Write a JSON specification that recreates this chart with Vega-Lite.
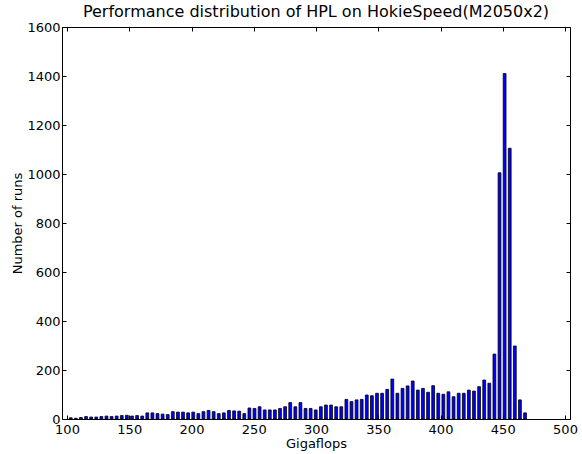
{
  "$schema": "https://vega.github.io/schema/vega-lite/v6.json",
  "width": 508,
  "height": 392,
  "autosize": {"type": "none"},
  "padding": {"left": 62, "top": 27, "right": 12, "bottom": 35},
  "background": "white",
  "title": {"text": "Performance distribution of HPL on HokieSpeed(M2050x2)", "font": "DejaVu Sans", "fontSize": 16, "fontWeight": "normal", "color": "black", "offset": 1},
  "config": {
    "view": {"stroke": "black", "strokeWidth": 1},
    "axis": {"grid": false, "domain": false, "labelFont": "DejaVu Sans", "labelFontSize": 13, "labelColor": "black", "titleFont": "DejaVu Sans", "titleFontSize": 13, "titleFontWeight": "normal", "titleColor": "black", "tickColor": "black", "tickSize": -4, "labelPadding": 6, "format": "d"}
  },
  "data": {"values": [
    {"gflops": 103.0, "runs": 5}, {"gflops": 107.1, "runs": 3}, {"gflops": 111.2, "runs": 6}, {"gflops": 115.3, "runs": 10},
    {"gflops": 119.4, "runs": 8}, {"gflops": 123.5, "runs": 8}, {"gflops": 127.6, "runs": 10}, {"gflops": 131.7, "runs": 12},
    {"gflops": 135.8, "runs": 10}, {"gflops": 139.9, "runs": 12}, {"gflops": 144.0, "runs": 14}, {"gflops": 148.1, "runs": 15},
    {"gflops": 152.2, "runs": 12}, {"gflops": 156.3, "runs": 14}, {"gflops": 160.4, "runs": 12}, {"gflops": 164.5, "runs": 25},
    {"gflops": 168.6, "runs": 25}, {"gflops": 172.7, "runs": 22}, {"gflops": 176.8, "runs": 20}, {"gflops": 180.9, "runs": 18},
    {"gflops": 185.0, "runs": 30}, {"gflops": 189.1, "runs": 28}, {"gflops": 193.2, "runs": 28}, {"gflops": 197.3, "runs": 25},
    {"gflops": 201.4, "runs": 28}, {"gflops": 205.5, "runs": 22}, {"gflops": 209.6, "runs": 30}, {"gflops": 213.7, "runs": 35},
    {"gflops": 217.8, "runs": 30}, {"gflops": 221.9, "runs": 22}, {"gflops": 226.0, "runs": 25}, {"gflops": 230.1, "runs": 35},
    {"gflops": 234.2, "runs": 33}, {"gflops": 238.3, "runs": 32}, {"gflops": 242.4, "runs": 22}, {"gflops": 246.5, "runs": 45},
    {"gflops": 250.6, "runs": 43}, {"gflops": 254.7, "runs": 50}, {"gflops": 258.8, "runs": 37}, {"gflops": 262.9, "runs": 37},
    {"gflops": 267.0, "runs": 37}, {"gflops": 271.1, "runs": 43}, {"gflops": 275.2, "runs": 50}, {"gflops": 279.3, "runs": 67},
    {"gflops": 283.4, "runs": 50}, {"gflops": 287.5, "runs": 67}, {"gflops": 291.6, "runs": 43}, {"gflops": 295.7, "runs": 43},
    {"gflops": 299.8, "runs": 37}, {"gflops": 303.9, "runs": 50}, {"gflops": 308.0, "runs": 57}, {"gflops": 312.1, "runs": 57},
    {"gflops": 316.2, "runs": 50}, {"gflops": 320.3, "runs": 50}, {"gflops": 324.4, "runs": 80}, {"gflops": 328.5, "runs": 71},
    {"gflops": 332.6, "runs": 78}, {"gflops": 336.7, "runs": 80}, {"gflops": 340.8, "runs": 98}, {"gflops": 344.9, "runs": 95},
    {"gflops": 349.0, "runs": 105}, {"gflops": 353.1, "runs": 105}, {"gflops": 357.2, "runs": 121}, {"gflops": 361.3, "runs": 163},
    {"gflops": 365.4, "runs": 105}, {"gflops": 369.5, "runs": 125}, {"gflops": 373.6, "runs": 135}, {"gflops": 377.7, "runs": 155},
    {"gflops": 381.8, "runs": 118}, {"gflops": 385.9, "runs": 125}, {"gflops": 390.0, "runs": 109}, {"gflops": 394.1, "runs": 136},
    {"gflops": 398.2, "runs": 105}, {"gflops": 402.3, "runs": 101}, {"gflops": 406.4, "runs": 111}, {"gflops": 410.5, "runs": 91},
    {"gflops": 414.6, "runs": 105}, {"gflops": 418.7, "runs": 105}, {"gflops": 422.8, "runs": 118}, {"gflops": 426.9, "runs": 114},
    {"gflops": 431.0, "runs": 132}, {"gflops": 435.1, "runs": 159}, {"gflops": 439.2, "runs": 146}, {"gflops": 443.3, "runs": 265},
    {"gflops": 447.4, "runs": 1005}, {"gflops": 451.5, "runs": 1410}, {"gflops": 455.6, "runs": 1105}, {"gflops": 459.7, "runs": 298},
    {"gflops": 463.8, "runs": 78}, {"gflops": 467.9, "runs": 25}
  ]},
  "layer": [
    {
      "mark": {"type": "bar", "size": 2.8, "fill": "#0000ff", "stroke": "black", "strokeWidth": 0.8},
      "encoding": {
        "x": {"field": "gflops", "type": "quantitative", "scale": {"domain": [100, 500], "nice": false, "zero": false},
              "axis": {"orient": "bottom", "values": [100, 150, 200, 250, 300, 350, 400, 450, 500], "title": "Gigaflops", "titlePadding": 1, "labelPadding": 8}},
        "y": {"field": "runs", "type": "quantitative", "scale": {"domain": [0, 1600], "nice": false},
              "axis": {"orient": "left", "values": [0, 200, 400, 600, 800, 1000, 1200, 1400, 1600], "title": "Number of runs", "titlePadding": 2}}
      }
    },
    {
      "mark": {"type": "bar", "size": 2.8, "opacity": 0},
      "encoding": {
        "x": {"field": "gflops", "type": "quantitative", "axis": {"orient": "top", "values": [100, 150, 200, 250, 300, 350, 400, 450, 500], "labels": false, "title": null}},
        "y": {"field": "runs", "type": "quantitative", "axis": {"orient": "right", "values": [0, 200, 400, 600, 800, 1000, 1200, 1400, 1600], "labels": false, "title": null}}
      }
    }
  ]
}
